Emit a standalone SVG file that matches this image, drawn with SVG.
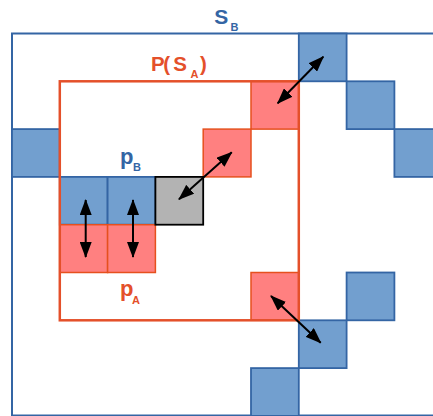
<svg xmlns="http://www.w3.org/2000/svg" width="433" height="416" viewBox="0 0 433 416">
<defs>
<style>
.bsq{fill:#729fcf;stroke:#3465a4;stroke-width:1.8}
.rsq{fill:#ff8080;stroke:#e6501e;stroke-width:1.5}
.gsq{fill:#b3b3b3;stroke:#000;stroke-width:1.8}
.frameB{fill:none;stroke:#3465a4;stroke-width:2}
.frameA{fill:none;stroke:#e4502a;stroke-width:2.5}
.lbl{font-family:"Liberation Sans",Arial,sans-serif;font-weight:bold}
.blue{fill:#3465a4}
.red{fill:#e4502a}
.arr{stroke:#000;stroke-width:2;fill:none;marker-start:url(#ah);marker-end:url(#ah)}
</style>
<marker id="ah" viewBox="0 0 16 12" refX="15" refY="6" markerWidth="16" markerHeight="12" markerUnits="userSpaceOnUse" orient="auto-start-reverse">
<path d="M0,0 L16,6 L0,12 z" fill="#000"/>
</marker>
</defs>
<rect width="433" height="416" fill="#fff"/>
<g id="SB">
<rect class="frameB" x="12" y="33.5" width="440" height="382"/>
<text class="lbl blue" x="214.3" y="23.5" font-size="21">S<tspan x="230.5" y="31" font-size="11">B</tspan></text>
</g>
<g id="blue-squares">
<rect class="bsq" x="298.8" y="33.5" width="47.8" height="47.8"/>
<rect class="bsq" x="346.6" y="81.3" width="47.8" height="47.8"/>
<rect class="bsq" x="394.4" y="129.1" width="47.8" height="47.8"/>
<rect class="bsq" x="12" y="129.1" width="47.8" height="47.8"/>
<rect class="bsq" x="346.6" y="272.5" width="47.8" height="47.8"/>
<rect class="bsq" x="298.8" y="320.3" width="47.8" height="47.8"/>
<rect class="bsq" x="251" y="368.1" width="47.8" height="47.8"/>
</g>
<g id="pB">
<rect class="bsq" x="59.8" y="176.9" width="47.8" height="47.8"/>
<rect class="bsq" x="107.6" y="176.9" width="47.8" height="47.8"/>
<text class="lbl blue" x="120" y="163.7" font-size="22">p<tspan x="133" y="170.5" font-size="11">B</tspan></text>
</g>
<g id="red-squares">
<rect class="rsq" x="251" y="81.3" width="47.8" height="47.8"/>
<rect class="rsq" x="203.2" y="129.1" width="47.8" height="47.8"/>
<rect class="rsq" x="251" y="272.5" width="47.8" height="47.8"/>
</g>
<g id="pA">
<rect class="rsq" x="59.8" y="224.7" width="47.8" height="47.8"/>
<rect class="rsq" x="107.6" y="224.7" width="47.8" height="47.8"/>
<text class="lbl red" x="120" y="296.4" font-size="22">p<tspan x="132" y="304.3" font-size="11">A</tspan></text>
</g>
<g id="gray">
<rect class="gsq" x="155.4" y="176.9" width="47.8" height="47.8"/>
</g>
<g id="PSA">
<rect class="frameA" x="59.8" y="81.3" width="239" height="239"/>
<text class="lbl red" x="151" y="70.5" font-size="20.5">P<tspan x="163.2">(</tspan><tspan x="173.3">S</tspan><tspan x="190.6" y="78.3" font-size="11">A</tspan><tspan x="200" y="70.5">)</tspan></text>
</g>
<g id="connectors">
<line class="arr" x1="277.7" y1="103.3" x2="323.3" y2="56.7"/>
<line class="arr" x1="179" y1="199.3" x2="231.7" y2="152.3"/>
<line class="arr" x1="85.7" y1="200" x2="85.7" y2="257"/>
<line class="arr" x1="133" y1="200" x2="133" y2="257"/>
<line class="arr" x1="271" y1="296" x2="320.7" y2="342.7"/>
</g>
</svg>
